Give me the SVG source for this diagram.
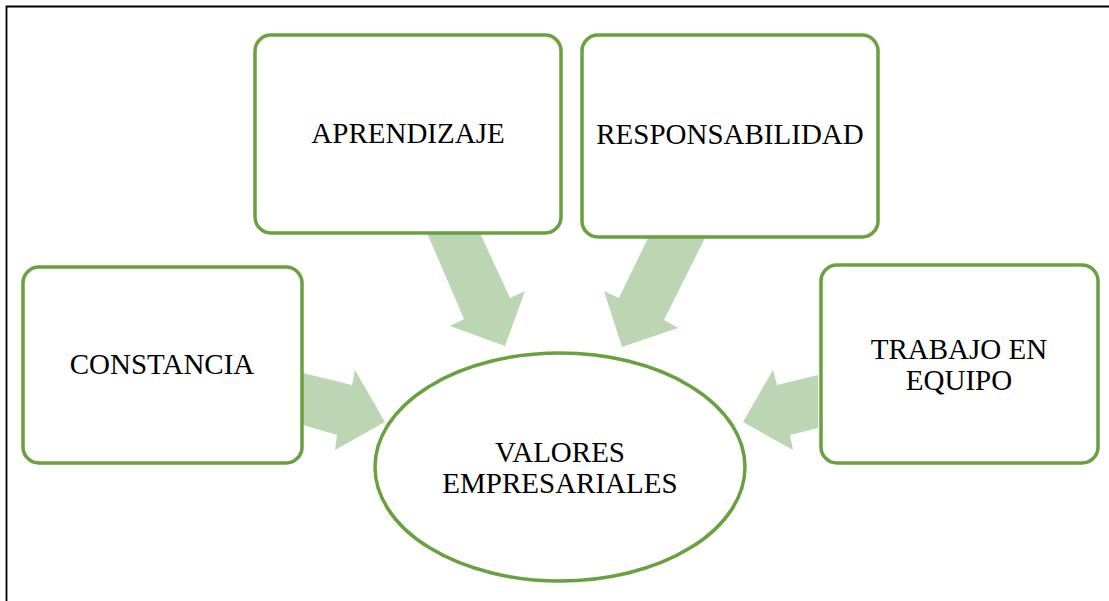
<svg xmlns="http://www.w3.org/2000/svg" width="1109" height="601" viewBox="0 0 1109 601">
<style>
.box{fill:#ffffff;stroke:#6aa03f;stroke-width:3.5}
.arr{fill:#bcd5b3}
.t{font-family:"Liberation Serif","Times New Roman",serif;font-size:29px;fill:#000;text-anchor:middle}
</style>
<rect width="1109" height="601" fill="#ffffff"/>
<path d="M6.5,601 V6.5 H1109" fill="none" stroke="#000" stroke-width="1.8"/>
<g id="connectors">
<polygon class="arr" points="427,233 480,233 510,298 525,291 505,346 450,326 464,319"/>
<polygon class="arr" points="648,238 705,238 664,320 678,328 622,347 604,291 619,298"/>
<polygon class="arr" points="303,373 352,385 355,370 385,422 335,450 337,435 303,425"/>
<polygon class="arr" points="818,375 777,385 773,370 743,422 793,450 790,435 818,428"/>
</g>
<g id="aprendizaje">
<rect class="box" x="255" y="35" width="306" height="198" rx="16"/>
<text class="t" x="408" y="143">APRENDIZAJE</text>
</g>
<g id="responsabilidad">
<rect class="box" x="582" y="35" width="296" height="202" rx="16"/>
<text class="t" x="730" y="144">RESPONSABILIDAD</text>
</g>
<g id="constancia">
<rect class="box" x="23" y="267" width="279" height="196" rx="16"/>
<text class="t" x="162" y="374">CONSTANCIA</text>
</g>
<g id="trabajo">
<rect class="box" x="821" y="265" width="277" height="198" rx="16"/>
<text class="t" x="959" y="359">TRABAJO EN</text>
<text class="t" x="959" y="390">EQUIPO</text>
</g>
<g id="valores">
<ellipse class="box" cx="560" cy="467" rx="185" ry="114"/>
<text class="t" x="560" y="462">VALORES</text>
<text class="t" x="560" y="493">EMPRESARIALES</text>
</g>
</svg>
